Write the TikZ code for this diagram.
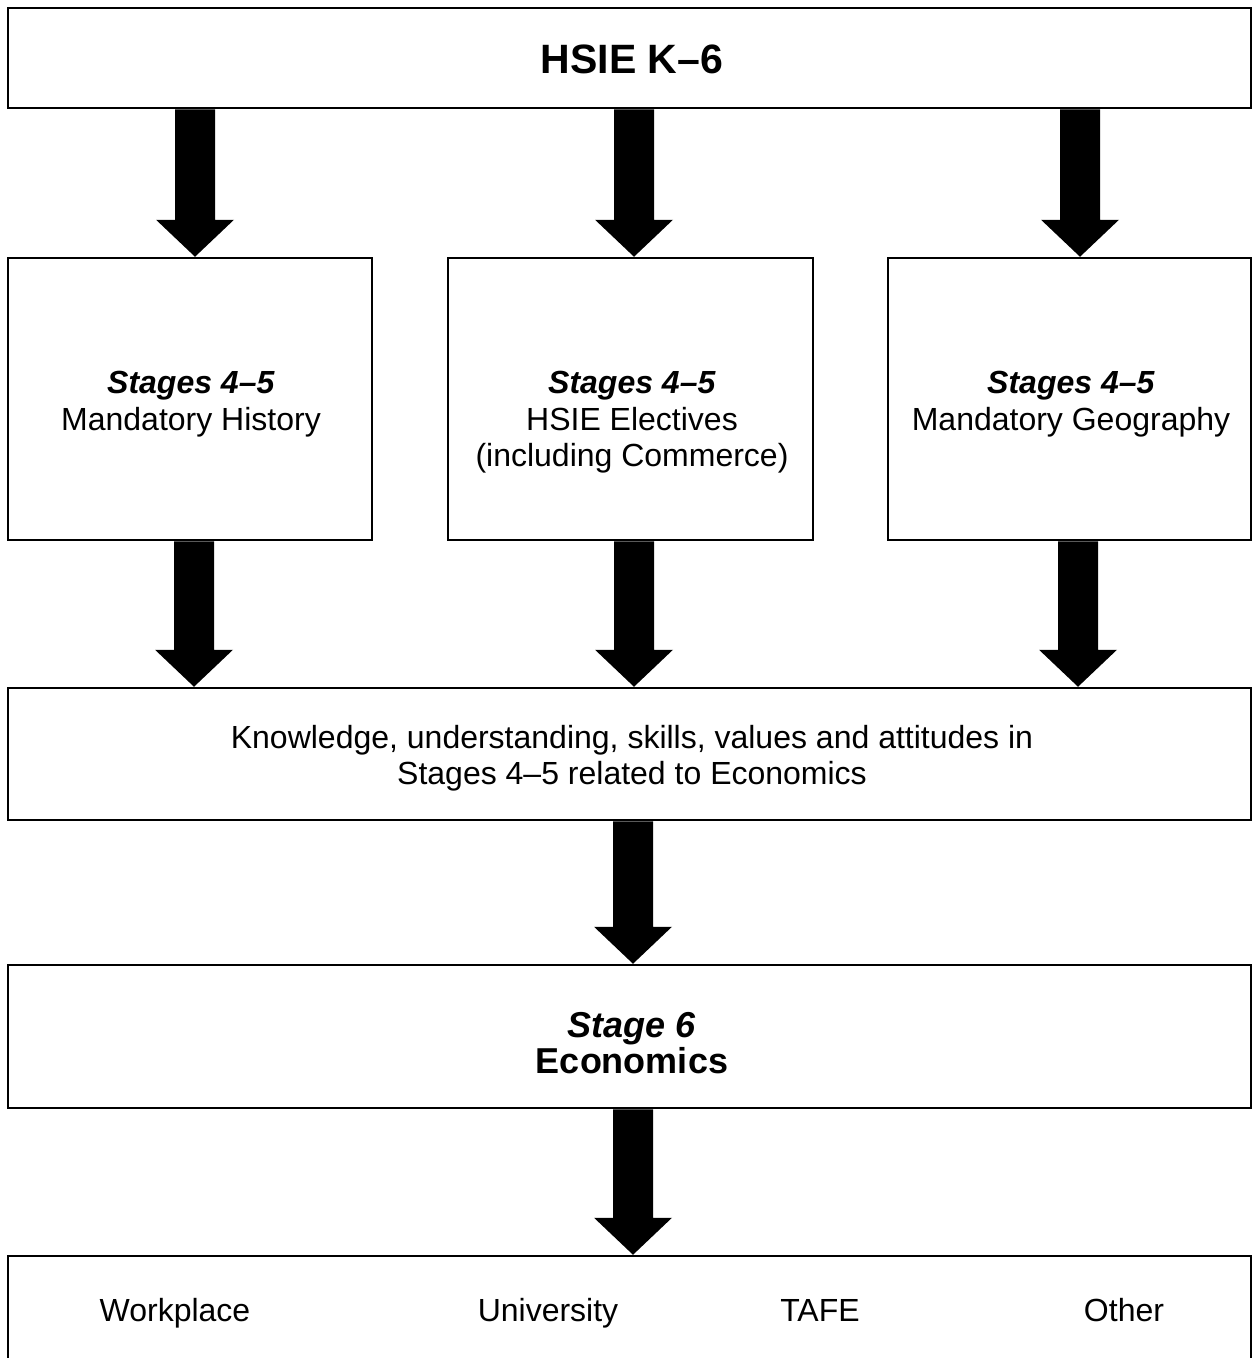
\documentclass[tikz,border=0pt]{standalone}
\usepackage{fontspec}
\setmainfont{Liberation Sans}
\usetikzlibrary{calc}
\tikzset{
  box/.style={draw, line width=2.5pt, rectangle, inner sep=0pt},
  body/.style={align=center, font=\fontsize{32}{36.5}\selectfont, inner sep=0pt},
  big/.style={align=center, font=\fontsize{36}{36}\selectfont\bfseries, inner sep=0pt},
}
\newcommand\blockarrow[3]{%
  \fill let \p1=(#2.south), \p2=(#3.north) in
    (#1pt-20pt,\y1) -- (#1pt+20pt,\y1) -- (#1pt+20pt,\y2+37pt) -- (#1pt+39pt,\y2+37pt)
    -- (#1pt,\y2) -- (#1pt-39pt,\y2+37pt) -- (#1pt-20pt,\y2+37pt) -- cycle;}
\begin{document}
\begin{tikzpicture}[x=1pt,y=-1pt]
\useasboundingbox (0,0) rectangle (1255,1358);
% boxes
\node[box, minimum width=1243, minimum height=100] (top) at (629.5,58) {};
\node[font=\fontsize{41}{41}\selectfont\bfseries, inner sep=0pt] (toptxt) at (632,59) {HSIE K–6};
\node[box, minimum width=364, minimum height=282] (hist) at (190,399) {};
\node[box, minimum width=365, minimum height=282] (elect) at (630.5,399) {};
\node[box, minimum width=363, minimum height=282] (geo) at (1069.5,399) {};
\node[body, anchor=north] (histtxt) at (191,371) {\textbf{\textit{Stages 4–5}}\\Mandatory History};
\node[body, anchor=north] (electtxt) at (632,371) {\textbf{\textit{Stages 4–5}}\\HSIE Electives\\(including Commerce)};
\node[body, anchor=north] (geotxt) at (1071,371) {\textbf{\textit{Stages 4–5}}\\Mandatory Geography};
\node[box, minimum width=1243, minimum height=132] (know) at (629.5,754) {};
\node[body] (knowtxt) at (632,758) {Knowledge, understanding, skills, values and attitudes in\\Stages 4–5 related to Economics};
\node[box, minimum width=1243, minimum height=143] (six) at (629.5,1036.5) {};
\node[big] (sixtxt) at (632,1043) {\textit{Stage 6}\\Economics};
\node[box, minimum width=1243, minimum height=120] (dest) at (629.5,1316) {};
\node[body, anchor=base] (work) at (175,1321) {Workplace};
\node[body, anchor=base] (uni) at (548,1321) {University};
\node[body, anchor=base] (tafe) at (820,1321) {TAFE};
\node[body, anchor=base] (other) at (1124,1321) {Other};
% arrows
\blockarrow{195}{top}{hist}
\blockarrow{634}{top}{elect}
\blockarrow{1080}{top}{geo}
\blockarrow{194}{hist}{know}
\blockarrow{634}{elect}{know}
\blockarrow{1078}{geo}{know}
\blockarrow{633}{know}{six}
\blockarrow{633}{six}{dest}
\end{tikzpicture}
\end{document}
